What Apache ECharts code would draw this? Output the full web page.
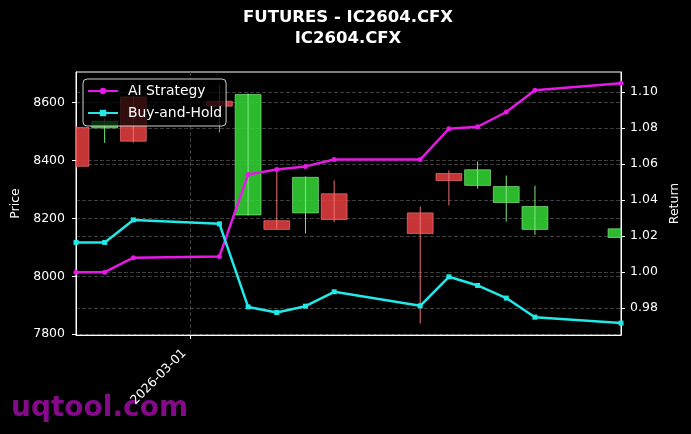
<!DOCTYPE html>
<html><head><meta charset="utf-8">
<script src="https://cdn.jsdelivr.net/npm/echarts@6/dist/echarts.min.js"></script>
<style>html,body{margin:0;padding:0;background:#000;}#c{width:691px;height:434px;}</style>
</head><body><div id="c"></div>
<script>
// ---- data ----
const dates = ['2026-02-25','2026-02-26','2026-02-27','2026-03-02','2026-03-03','2026-03-04','2026-03-05','2026-03-06','2026-03-09','2026-03-10','2026-03-11','2026-03-12','2026-03-13','2026-03-16'];
const openP  = [8514, 8513, 8620, 8605, 8212, 8192, 8219, 8285, 8219, 8355, 8314, 8255, 8162, 8134];
const closeP = [8380, 8536, 8467, 8588, 8628, 8162, 8342, 8196, 8148, 8331, 8368, 8310, 8241, 8164];
const lowP   = [8375, 8461, 8462, 8497, 8210, 8162, 8148, 8187, 7837, 8245, 8303, 8189, 8143, 8128];
const highP  = [8520, 8545, 8625, 8660, 8632, 8368, 8345, 8331, 8241, 8366, 8397, 8348, 8313, 8170];
const aiStrategy = [1.000, 1.000, 1.008, 1.0087, 1.0542, 1.057, 1.0587, 1.0625, 1.0625, 1.0796, 1.0807, 1.0889, 1.1010, 1.1048];
const buyHold    = [1.0165, 1.0165, 1.029, 1.0268, 0.9807, 0.9776, 0.9811, 0.9891, 0.9813, 0.9974, 0.9926, 0.9856, 0.9750, 0.9717];
const xTickLabels = ['2026-03-01'];
const priceTicks = [7800, 8000, 8200, 8400, 8600];
const returnTicks = [0.98, 1.00, 1.02, 1.04, 1.06, 1.08, 1.10];

// calendar-day categories spanning the data
const calDays = [];
(function(){
  let d = new Date(dates[0] + 'T00:00:00Z');
  const end = new Date(dates[dates.length-1] + 'T00:00:00Z');
  while (d <= end) { calDays.push(d.toISOString().slice(0,10)); d = new Date(d.getTime() + 86400000); }
})();

const FONT = 'DejaVu Sans';
const gridLine = {show: true, lineStyle: {color: '#4d4d4d', width: 0.8, type: [4, 2]}};
const showTick = (idx, val) => xTickLabels.indexOf(calDays[idx]) >= 0;

const UP = {body: '#32cd32', edge: '#7ee87e'};
const DOWN = {body: '#dc3c3c', edge: '#f07070'};

function renderCandle(params, api) {
  const x = api.value(0);
  const o = api.value(1), c = api.value(2), l = api.value(3), h = api.value(4);
  const pO = api.coord([x, o]), pC = api.coord([x, c]);
  const pL = api.coord([x, l]), pH = api.coord([x, h]);
  const w = api.size([1, 0])[0] * 0.9;
  const col = c >= o ? UP : DOWN;
  const top = Math.min(pO[1], pC[1]), bot = Math.max(pO[1], pC[1]);
  return {
    type: 'group',
    children: [{
      type: 'rect',
      shape: {x: pO[0] - w / 2, y: top, width: w, height: Math.max(bot - top, 1)},
      style: {fill: col.body, opacity: 0.9, stroke: col.edge, lineWidth: 0.8}
    }, {
      type: 'line',
      shape: {x1: pH[0], y1: pH[1], x2: pL[0], y2: pL[1]},
      style: {stroke: col.edge, lineWidth: 1}
    }]
  };
}

const chart = echarts.init(document.getElementById('c'));
chart.setOption({
  backgroundColor: '#000',
  animation: false,
  grid: {left: 76, right: 70, top: 72, bottom: 99, show: true, borderColor: '#fff', borderWidth: 1,
         backgroundColor: 'transparent', containLabel: false, outerBoundsMode: 'none'},
  legend: {
    orient: 'vertical', left: 83, top: 79,
    data: ['AI Strategy', 'Buy-and-Hold'],
    backgroundColor: 'rgba(0,0,0,0.75)', borderColor: '#cccccc', borderWidth: 1, borderRadius: 4,
    padding: [5, 4, 6, 4], itemGap: 8, itemWidth: 30, itemHeight: 8,
    textStyle: {color: '#fff', fontFamily: FONT, fontSize: 13.9, padding: [0, 0, 0, 5]}
  },
  graphic: [{
    type: 'text', x: 348, y: 17.5, z: 10,
    style: {text: 'FUTURES - IC2604.CFX', fill: '#fff', font: 'bold 16.5px "DejaVu Sans"', textAlign: 'center', textVerticalAlign: 'middle'}
  }, {
    type: 'text', x: 348, y: 38.8, z: 10,
    style: {text: 'IC2604.CFX', fill: '#fff', font: 'bold 16.5px "DejaVu Sans"', textAlign: 'center', textVerticalAlign: 'middle'}
  }, {
    type: 'text', left: 11, top: 395, z: -10,
    style: {text: 'uqtool.com', fill: '#850a8a', font: 'bold 28px "DejaVu Sans"'}
  }],
  xAxis: {
    type: 'category', data: calDays, boundaryGap: false,
    axisLine: {show: true, lineStyle: {color: '#fff'}},
    axisTick: {show: true, interval: showTick, length: 4, lineStyle: {color: '#fff'}},
    axisLabel: {interval: showTick, rotate: 45, color: '#fff', fontFamily: FONT, fontSize: 12.5, margin: 10,
      padding: [0, 9, 0, 0]},
    splitLine: {show: true, interval: showTick, lineStyle: {color: '#4d4d4d', width: 0.8, type: [4, 2]}}
  },
  yAxis: [{
    type: 'value', min: 7797, max: 8706, position: 'left',
    name: 'Price', nameLocation: 'middle', nameGap: 49, nameRotate: 90,
    nameTextStyle: {color: '#fff', fontFamily: FONT, fontSize: 12.5},
    axisLine: {show: true, lineStyle: {color: '#fff'}},
    axisTick: {show: true, length: 4, customValues: priceTicks, lineStyle: {color: '#fff'}},
    axisLabel: {customValues: priceTicks, color: '#fff', fontFamily: FONT, fontSize: 12.5, margin: 11,
      formatter: v => String(Math.round(v))},
    splitLine: gridLine
  }, {
    type: 'value', min: 0.9651, max: 1.1111, position: 'right',
    name: 'Return', nameLocation: 'middle', nameGap: 44, nameRotate: 90,
    nameTextStyle: {color: '#fff', fontFamily: FONT, fontSize: 12.5},
    axisLine: {show: true, lineStyle: {color: '#fff'}},
    axisTick: {show: true, length: 4, customValues: returnTicks, lineStyle: {color: '#fff'}},
    axisLabel: {customValues: returnTicks, color: '#fff', fontFamily: FONT, fontSize: 12.5, margin: 9,
      formatter: v => v.toFixed(2)},
    splitLine: gridLine
  }],
  series: [{
    type: 'custom', name: 'OHLC', yAxisIndex: 0, clip: true,
    renderItem: renderCandle,
    encode: {x: 0, y: [1, 2, 3, 4]},
    data: dates.map((d, i) => [d, openP[i], closeP[i], lowP[i], highP[i]]),
    z: 2
  }, {
    name: 'AI Strategy', type: 'line', yAxisIndex: 1,
    data: dates.map((d, i) => [d, aiStrategy[i]]),
    lineStyle: {color: '#e619e6', width: 2.5}, itemStyle: {color: '#e619e6'},
    symbol: 'circle', symbolSize: 5, showAllSymbol: true, z: 5
  }, {
    name: 'Buy-and-Hold', type: 'line', yAxisIndex: 1,
    data: dates.map((d, i) => [d, buyHold[i]]),
    lineStyle: {color: '#22e8e8', width: 2.5}, itemStyle: {color: '#22e8e8'},
    symbol: 'rect', symbolSize: 5, showAllSymbol: true, z: 5
  }]
});
</script></body></html>
